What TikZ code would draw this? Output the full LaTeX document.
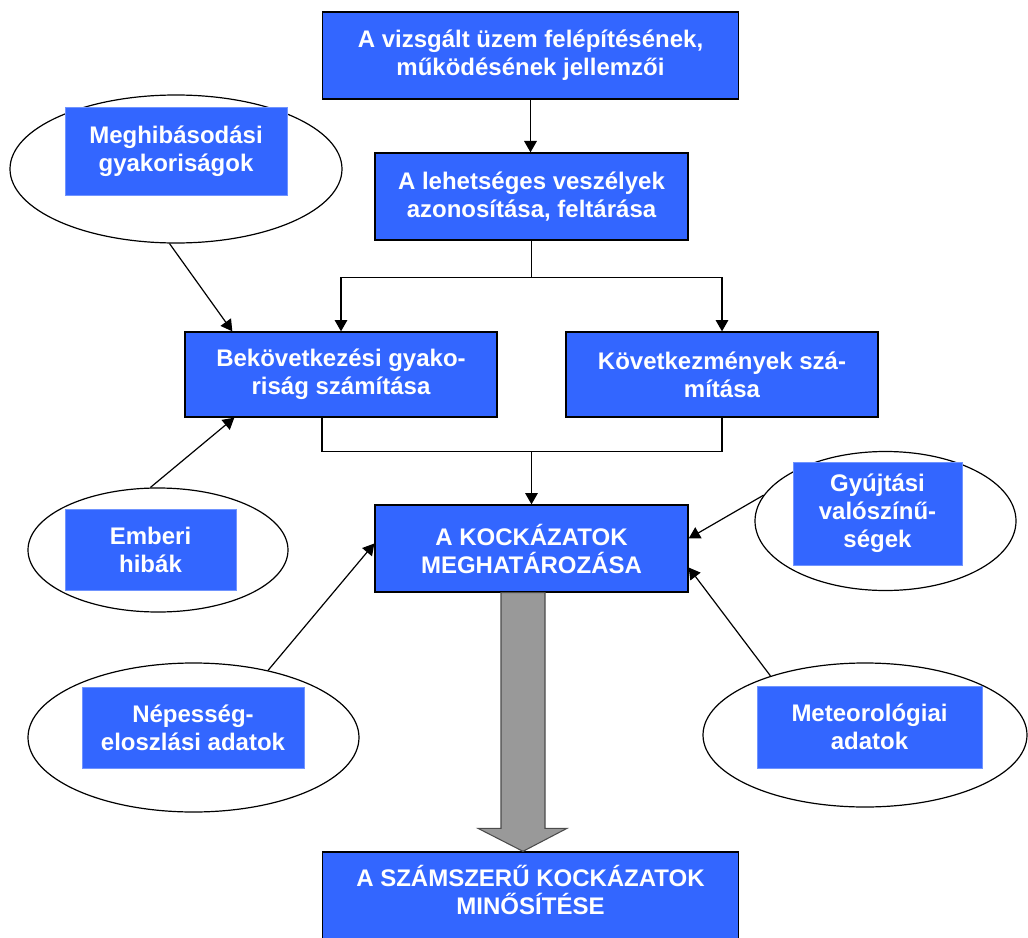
\documentclass[tikz,border=0pt]{standalone}
\usepackage{fontspec}
\setmainfont{Liberation Sans}
\usetikzlibrary{arrows.meta,calc,shapes.geometric}
\definecolor{boxblue}{HTML}{3366FF}
\definecolor{arrgray}{HTML}{999999}
\begin{document}
\begin{tikzpicture}[x=0.75pt,y=-0.75pt,
  txt/.style={text=white,font=\bfseries\fontsize{18}{21}\selectfont,align=center,inner sep=0pt},
  box/.style={txt,draw=black,line width=1pt,fill=boxblue},
  inbox/.style={txt,draw=boxblue!70!white,line width=0.5pt,fill=boxblue},
  oval/.style={draw=black,line width=0.9pt,ellipse,inner sep=0pt,fill=white},
  conn/.style={draw=black,line width=0.9pt,-{Triangle[width=9.5pt,length=8.5pt]}},
  plain/.style={draw=black,line width=0.9pt},
  bigarrow/.style={fill=arrgray,draw=black!70,line width=0.8pt,line join=miter}
]
\useasboundingbox (0,0) rectangle (1028,938);

% main boxes
\node[box,minimum width=312pt,minimum height=65.25pt] (b1) at (530.5,55.5) {A vizsgált üzem felépítésének,\\működésének jellemzői};
\node[box,minimum width=234.75pt,minimum height=65.25pt] (b2) at (531.5,196.5) {A lehetséges veszélyek\\azonosítása, feltárása};
\node[box,minimum width=234pt,minimum height=63.75pt] (b3) at (341,374.5) {Bekövetkezési gyako-\\riság számítása};
\node[box,minimum width=234pt,minimum height=63.75pt] (b4) at (722,374.5) {Következmények szá-\\mítása};
\node[box,minimum width=234.75pt,minimum height=65.25pt] (b5) at (531.5,548.5) {A KOCKÁZATOK\\MEGHATÁROZÁSA};
\node[box,minimum width=312pt,minimum height=67.5pt] (b6) at (530.5,897) {};
\node[txt] (b6t) at (530.5,890) {A SZÁMSZERŰ KOCKÁZATOK\\MINŐSÍTÉSE};

% ellipses
\node[oval,minimum width=249pt,minimum height=111pt] (e1) at (176,169) {};
\node[inbox,minimum width=166.5pt,minimum height=66pt] (r1) at (176,151) {Meghibásodási\\gyakoriságok};
\node[oval,minimum width=195pt,minimum height=93pt] (e2) at (158,550) {};
\node[inbox,minimum width=128.25pt,minimum height=60.75pt] (r2) at (150.5,549.5) {Emberi\\hibák};
\node[oval,minimum width=248.25pt,minimum height=111.75pt] (e3) at (193.5,737.5) {};
\node[inbox,minimum width=166.5pt,minimum height=60.75pt] (r3) at (193,727.5) {Népesség-\\eloszlási adatok};
\node[oval,minimum width=195.75pt,minimum height=104.25pt] (e4) at (885.5,521) {};
\node[inbox,minimum width=126.75pt,minimum height=77.25pt] (r4) at (877.5,513.5) {Gyújtási\\valószínű-\\ségek};
\node[oval,minimum width=243pt,minimum height=108pt] (e5) at (865,735) {};
\node[inbox,minimum width=168.75pt,minimum height=61.5pt] (r5) at (869.5,727) {Meteorológiai\\adatok};

% flow connectors
\draw[conn] (b1.south) -- (b1.south |- b2.north);
\coordinate (j1) at ($(b2.south)+(0,37)$);
\draw[plain] (b2.south) -- (j1);
\draw[conn] (j1) -| (b3.north);
\draw[conn] (j1) -| (b4.north);
\coordinate (j2) at ($(b5.north)+(0,-53)$);
\draw[plain] ($(b3.south)+(-19,0)$) |- (j2) -| (b4.south);
\draw[conn] (j2) -- (b5.north);

% big gray arrow
\draw[bigarrow] ($(b5.south)+(-30.5,0)$) -- ($(b6.north)+(-29.5,-23)$) -- ($(b6.north)+(-52.5,-23)$)
  -- ($(b6.north)+(-7.5,0)$) -- ($(b6.north)+(36.5,-23)$) -- ($(b6.north)+(14.5,-23)$)
  -- ($(b5.south)+(13.5,0)$) -- cycle;

% input connectors
\draw[conn] (e1.265) -- ($(b3.north west)+(48,0)$);
\draw[conn] (e2.97) -- ($(b3.south west)+(50,0)$);
\draw[conn] (e3.42) -- ($(b5.west)+(0,-5)$);
\draw[conn] (e4.168) -- ($(b5.east)+(0,-10)$);
\draw[conn] (e5.148) -- ($(b5.east)+(0,19)$);
\end{tikzpicture}
\end{document}
